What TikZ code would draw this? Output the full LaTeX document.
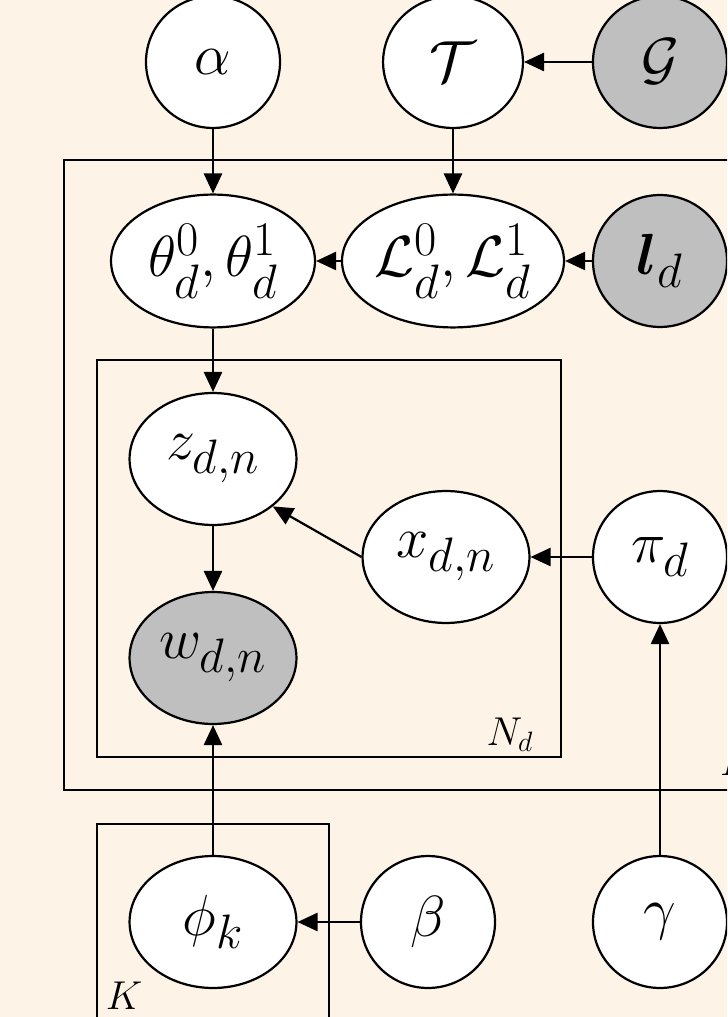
\documentclass[tikz,border=0pt]{standalone}
\usepackage{amsmath,amssymb}
\usepackage{tikz}
\definecolor{bgcream}{RGB}{253,244,231}
\definecolor{obsgray}{RGB}{191,191,191}
\usetikzlibrary{arrows.meta, positioning, shapes.geometric}
\tikzset{
    ldavar/.style={ellipse, draw, fill=white, line width=0.95pt, inner sep=0pt,
        minimum width=57.5pt, minimum height=56.6pt, font=\Huge},
    ldawide/.style={ldavar, minimum width=71.6pt},
    ldaobs/.style={fill=obsgray},
    ldaplate/.style={draw, line width=0.95pt},
    ldalabel/.style={inner sep=0pt, font=\LARGE},
    ldaedge/.style={-{Triangle[length=8.6pt, width=7.8pt]}, line width=0.95pt}
}

\begin{document}
\begin{tikzpicture}[x=0.429pt, y=-0.429pt]
  \fill[bgcream] (0,0) rectangle (727,1017);
  \useasboundingbox (0,0) rectangle (727,1017);
  \clip (0,0) rectangle (727,1017);
  % plates
  \draw[ldaplate] (64,160) rectangle (790,790);
  \draw[ldaplate] (97,360) rectangle (561,757);
  \draw[ldaplate] (97,824) rectangle (329,1060);
  \node[ldalabel] (Nlab) at (510,735) {$N_d$};
  \node[ldalabel] (Klab) at (124,996) {$K$};
  \node[ldalabel] (Dlab) at (737,762) {$D$};
  % variables
  \node[ldavar] (alpha) at (213,62) {$\alpha$};
  \node[ldavar, minimum width=60pt] (T) at (453,62) {$\mathcal{T}$};
  \node[ldavar, ldaobs] (G) at (660,62) {$\mathcal{G}$};
  \node[ldavar, minimum width=87.5pt, minimum height=57pt] (theta) at (213,261) {$\theta_d^0,\theta_d^1$};
  \node[ldavar, minimum width=85pt, minimum height=57pt] (L) at (453,261) {$\mathcal{L}_d^0,\mathcal{L}_d^1$};
  \node[ldavar, ldaobs] (ld) at (660,261) {$\boldsymbol{l}_d$};
  \node[ldawide] (z) at (213,459) {$z_{d,n}$};
  \node[ldawide, ldaobs] (w) at (213,658) {$w_{d,n}$};
  \node[ldawide] (x) at (446,557) {$x_{d,n}$};
  \node[ldavar] (pi) at (660,557) {$\pi_d$};
  \node[ldawide] (phi) at (213,922) {$\phi_k$};
  \node[ldavar] (beta) at (428,922) {$\beta$};
  \node[ldavar] (gamma) at (660,922) {$\gamma$};
  % edges
  \foreach \a/\b in {alpha/theta, T/L, G/T, ld/L, L/theta, theta/z, z/w, pi/x, phi/w, beta/phi, gamma/pi} {
      \draw[ldaedge] (\a) -- (\b);
  }
  \draw[ldaedge] (x.west) -- (z.south east);
\end{tikzpicture}
\end{document}
